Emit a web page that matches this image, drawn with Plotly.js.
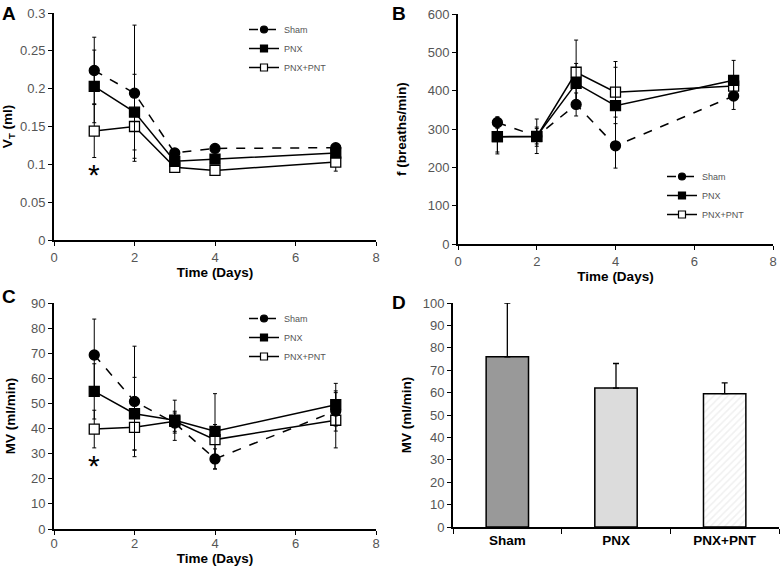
<!DOCTYPE html>
<html>
<head>
<meta charset="utf-8">
<script src="https://cdn.plot.ly/plotly-3.0.1.min.js"></script>
<style>html,body{margin:0;padding:0;background:#fff;}#chart{width:781px;height:566px;}</style>
</head>
<body>
<div id="chart"></div>
<script>
// ---- data ----
const days = [1, 2, 3, 4, 7];
const seriesNames = ['Sham', 'PNX', 'PNX+PNT'];

// Panel A: tidal volume (ml)
const vtSham = [0.224, 0.194, 0.115, 0.121, 0.122];
const vtShamErr = [0.044, 0.090, 0.005, 0.004, 0.004];
const vtPnx = [0.203, 0.169, 0.104, 0.107, 0.115];
const vtPnxErr = [0.048, 0.050, 0.006, 0.005, 0.005];
const vtPnt = [0.144, 0.150, 0.096, 0.092, 0.103];
const vtPntErr = [0.035, 0.042, 0.006, 0.005, 0.012];

// Panel B: breathing frequency (breaths/min)
const fSham = [317, 281, 364, 256, 386];
const fShamErr = [15, 20, 30, 58, 35];
const fPnx = [280, 281, 419, 361, 427];
const fPnxErr = [45, 45, 52, 115, 52];
const fPnt = [280, 280, 448, 396, 412];
const fPntErr = [40, 25, 84, 65, 20];

// Panel C: minute ventilation (ml/min)
const mvSham = [69.3, 50.8, 42.2, 27.9, 47.0];
const mvShamErr = [14.3, 22, 4, 4, 8];
const mvPnx = [54.8, 45.9, 43.3, 38.9, 49.5];
const mvPnxErr = [11, 14.5, 8, 15, 8.5];
const mvPnt = [39.8, 40.5, 42.9, 35.6, 43.3];
const mvPntErr = [7.5, 9, 4, 6, 11];

// Panel D: MV by group
const groups = ['Sham', 'PNX', 'PNX+PNT'];
const mvMean = [76, 62, 59.5];
const mvMeanErr = [24, 11, 4.8];

// ---- styles ----
const FONT = 'Liberation Sans, Arial, sans-serif';
const TICKCOL = '#555';
const styles = {
  'Sham':    {symbol: 'circle', fill: '#000', dash: 'dash'},
  'PNX':     {symbol: 'square', fill: '#000', dash: 'solid'},
  'PNX+PNT': {symbol: 'square', fill: '#fff', dash: 'solid'}
};

function lineTrace(name, y, err, xa, ya) {
  const s = styles[name];
  return {
    type: 'scatter', mode: 'lines+markers', x: days, y: y, name: name,
    xaxis: xa, yaxis: ya, showlegend: false, cliponaxis: false,
    line: {color: '#000', width: 1.5, dash: s.dash},
    marker: {symbol: s.symbol, size: 10, color: s.fill, line: {color: '#000', width: 1.3}},
    error_y: {type: 'data', array: err, visible: true, color: '#000', thickness: 1, width: 2}
  };
}
function legendTrace(name, legend, rank) {
  const s = styles[name];
  return {
    type: 'scatter', mode: 'lines+markers', x: [null], y: [null], name: name,
    xaxis: 'x', yaxis: 'y', legend: legend, legendrank: rank, showlegend: true,
    line: {color: '#000', width: 1.5, dash: s.dash},
    marker: {symbol: s.symbol, size: 7, color: s.fill, line: {color: '#000', width: 1.2}}
  };
}

const data = [
  lineTrace('PNX+PNT', vtPnt, vtPntErr, 'x', 'y'),
  lineTrace('Sham', vtSham, vtShamErr, 'x', 'y'),
  lineTrace('PNX', vtPnx, vtPnxErr, 'x', 'y'),
  lineTrace('PNX+PNT', fPnt, fPntErr, 'x2', 'y2'),
  lineTrace('Sham', fSham, fShamErr, 'x2', 'y2'),
  lineTrace('PNX', fPnx, fPnxErr, 'x2', 'y2'),
  lineTrace('PNX+PNT', mvPnt, mvPntErr, 'x3', 'y3'),
  lineTrace('Sham', mvSham, mvShamErr, 'x3', 'y3'),
  lineTrace('PNX', mvPnx, mvPnxErr, 'x3', 'y3'),
  {
    type: 'bar', x: groups, y: mvMean, xaxis: 'x4', yaxis: 'y4', showlegend: false, width: 0.39,
    marker: {color: ['#999999', '#dcdcdc', '#f0f0f0'], line: {color: '#000', width: 1.5},
             pattern: {shape: ['', '', '/'], fgcolor: '#b8b8b8', bgcolor: '#f7f7f7', size: 5, solidity: 0.3}},
    error_y: {type: 'data', symmetric: false, array: mvMeanErr, arrayminus: [0, 0, 0], visible: true,
              color: '#000', thickness: 1.3, width: 3}
  }
];
['legend', 'legend2', 'legend3'].forEach(lg => {
  seriesNames.forEach((n, i) => data.push(legendTrace(n, lg, i + 1)));
});

function ax(extra) {
  return Object.assign({
    showgrid: false, zeroline: false, showline: true, linecolor: '#000', linewidth: 2,
    ticks: 'outside', ticklen: 4, tickwidth: 1, tickcolor: '#000', mirror: false,
    tickfont: {family: FONT, size: 13, color: TICKCOL}, fixedrange: true
  }, extra);
}
function atitle(t, standoff) {
  return {text: t, font: {family: FONT, size: 13.5, color: '#000', weight: 'bold'}, standoff: standoff};
}
function lg(x, y) {
  return {x: x, y: y, xanchor: 'left', yanchor: 'top', bgcolor: 'rgba(0,0,0,0)',
          font: {family: FONT, size: 9, color: TICKCOL}, traceorder: 'normal', itemwidth: 30, tracegroupgap: 0};
}

const W = 781, H = 566;
const px = v => v / W, py = v => 1 - v / H;

const layout = {
  width: W, height: H, margin: {l: 0, r: 0, t: 0, b: 0},
  paper_bgcolor: '#fff', plot_bgcolor: '#fff',
  font: {family: FONT},
  xaxis: ax({domain: [px(54), px(376)], range: [0, 8], dtick: 2, anchor: 'y', title: atitle('Time (Days)', 1)}),
  yaxis: ax({domain: [py(240), py(13)], range: [0, 0.3], dtick: 0.05, anchor: 'x', title: atitle('V<sub>T</sub> (ml)', 6)}),
  xaxis2: ax({domain: [px(458), px(773)], range: [0, 8], dtick: 2, anchor: 'y2', title: atitle('Time (Days)', 1)}),
  yaxis2: ax({domain: [py(244), py(14)], range: [0, 600], dtick: 100, anchor: 'x2', title: atitle('f (breaths/min)', 18)}),
  xaxis3: ax({domain: [px(54), px(376)], range: [0, 8], dtick: 2, anchor: 'y3', ticklabelstandoff: -3, title: atitle('Time (Days)', 0)}),
  yaxis3: ax({domain: [py(529), py(303)], range: [0, 90], dtick: 10, anchor: 'x3', title: atitle('MV (ml/min)', 12)}),
  xaxis4: ax({domain: [px(453), px(779)], type: 'category', anchor: 'y4', tickson: 'boundaries', ticklen: 5,
              tickfont: {family: FONT, size: 13.5, color: '#000', weight: 'bold'}}),
  yaxis4: ax({domain: [py(527), py(303)], range: [0, 100], dtick: 10, anchor: 'x4', title: atitle('MV (ml/min)', 8)}),
  legend: lg(px(244), py(15)),
  legend2: lg(px(662), py(162)),
  legend3: lg(px(244), py(304)),
  annotations: [
    {text: '<b>A</b>', xref: 'paper', yref: 'paper', x: px(0), y: py(1), xanchor: 'left', yanchor: 'top', showarrow: false, font: {family: FONT, size: 19, color: '#000'}},
    {text: '<b>B</b>', xref: 'paper', yref: 'paper', x: px(390), y: py(1), xanchor: 'left', yanchor: 'top', showarrow: false, font: {family: FONT, size: 19, color: '#000'}},
    {text: '<b>C</b>', xref: 'paper', yref: 'paper', x: px(0), y: py(284), xanchor: 'left', yanchor: 'top', showarrow: false, font: {family: FONT, size: 19, color: '#000'}},
    {text: '<b>D</b>', xref: 'paper', yref: 'paper', x: px(390), y: py(290), xanchor: 'left', yanchor: 'top', showarrow: false, font: {family: FONT, size: 19, color: '#000'}},
    {text: '*', xref: 'x', yref: 'y', x: 1, y: 0.09, yshift: -3, showarrow: false, font: {family: FONT, size: 30, color: '#000'}},
    {text: '*', xref: 'x3', yref: 'y3', x: 1, y: 26.5, yshift: -3, showarrow: false, font: {family: FONT, size: 30, color: '#000'}}
  ]
};

Plotly.newPlot('chart', data, layout, {staticPlot: true, displayModeBar: false});
</script>
</body>
</html>
